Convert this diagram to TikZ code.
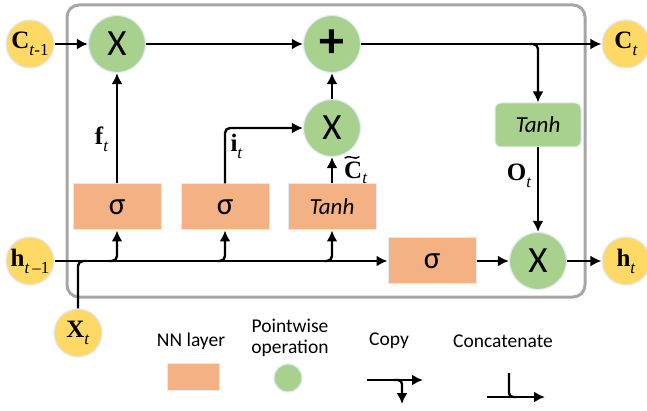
\documentclass[tikz,border=0pt]{standalone}
\usepackage{fontspec}
\setmainfont{Carlito}
\newfontfamily\tnr{Liberation Serif}
\usepackage{tikz}
\usetikzlibrary{arrows.meta, positioning}

\definecolor{cellyellow}{RGB}{255,217,102}
\definecolor{opgreen}{RGB}{169,209,142}
\definecolor{nnorange}{RGB}{244,177,131}
\definecolor{framegray}{RGB}{166,166,166}
\definecolor{glow}{RGB}{222,234,246}

% bold vector with italic subscript
\newcommand{\vlbl}[3][-7pt]{{\tnr\fontsize{25}{28}\selectfont\textbf{#2}\raisebox{#1}{\fontsize{17}{19}\selectfont #3}}}

\tikzset{
  ystate/.style={circle, fill=cellyellow, draw=glow, line width=1.2pt, minimum size=48pt, inner sep=0pt},
  pwop/.style={circle, fill=opgreen, draw=glow, line width=1.2pt, minimum size=57pt, inner sep=0pt,
    font=\fontsize{37}{40}\selectfont},
  nnbox/.style={rectangle, fill=nnorange, draw=glow, line width=1pt, minimum width=88pt, minimum height=46pt,
    inner sep=0pt, font=\fontsize{23}{26}\selectfont},
  tanhbox/.style={rectangle, rounded corners=6pt, fill=opgreen, draw=glow, line width=1pt,
    minimum width=86pt, minimum height=44pt, inner sep=0pt, font=\fontsize{23}{26}\selectfont},
  sig/.style={font=\fontsize{31}{34}\selectfont},
  legtext/.style={font=\fontsize{19.5}{21.5}\selectfont, inner sep=0pt},
  flow/.style={->, line width=2.4pt},
}

\begin{document}
\begin{tikzpicture}[x=1pt, y=-1pt, >={Latex[length=11pt,width=11pt]}, line width=2.4pt]
    \useasboundingbox (0,0) rectangle (647,411);

    % cell frame
    \draw[framegray, line width=3pt, rounded corners=12pt] (67,5) rectangle (585,297);

    % states and operations
    \node[ystate] (cprev) at (30,44) {\vlbl{C}{\textit{t}-1}};
    \node[pwop] (fmul) at (117,44) {X};
    \node[pwop, font=\fontsize{50}{50}\bfseries] (cadd) at (332,44) {\raisebox{-2pt}{+}};
    \node[pwop] (imul) at (332,128) {X};
    \node[ystate] (cnext) at (626,44) {\vlbl{C}{\textit{t}}};
    \node[tanhbox] (ctanh) at (538,125) {\textit{Tanh}};

    \node[nnbox, sig] (fgate) at (117,207) {σ};
    \node[nnbox, sig] (igate) at (225,207) {σ};
    \node[nnbox] (cgate) at (332,207) {\textit{Tanh}};
    \node[nnbox, sig] (ogate) at (432,261) {σ};
    \node[pwop] (hmul) at (538,261) {X};
    \node[ystate] (hnext) at (626,261) {\vlbl{h}{\textit{t}}};
    \node[ystate] (hprev) at (30,261) {\vlbl{h}{\textit{t}\,\textendash1}};
    \node[ystate] (xin) at (78,333) {\vlbl{X}{\textit{t}}};

    % split points
    \coordinate (xjoin) at (xin |- hprev);
    \coordinate (fsplit) at (fgate |- hprev);
    \coordinate (isplit) at (igate |- hprev);
    \coordinate (csplit) at (cgate |- hprev);
    \coordinate (tsplit) at (ctanh |- cadd);

    % cell state line
    \draw[flow] (cprev) -- (fmul);
    \draw[flow] (fmul) -- (cadd);
    \draw[flow] (cadd) -- (cnext);
    \draw[flow, rounded corners=5pt] ([xshift=-8pt]tsplit) -- (tsplit) -- (ctanh);

    % hidden state and input
    \draw[flow] (hprev) -- (ogate);
    \draw[rounded corners=5pt] (xin) -- (xjoin) -- ([xshift=8pt]xjoin);
    \draw[flow, rounded corners=5pt] ([xshift=-8pt]fsplit) -- (fsplit) -- (fgate);
    \draw[flow, rounded corners=5pt] ([xshift=-8pt]isplit) -- (isplit) -- (igate);
    \draw[flow, rounded corners=5pt] ([xshift=-8pt]csplit) -- (csplit) -- (cgate);

    % gates
    \draw[flow] (fgate) -- (fmul) node[pos=0.4, left=4pt] {\vlbl{f}{\textit{t}}};
    \draw[flow, rounded corners=5pt] (igate) |- (imul) node[pos=0.33, right=1pt] {\vlbl{i}{\textit{t}}};
    \draw[flow] (cgate) -- (imul) node[pos=0.4, right=11pt, inner sep=0pt] (clbl) {\vlbl[-5pt]{C}{\textit{t}}};
    \draw[line width=1.5pt, line cap=round] ([xshift=2pt,yshift=3pt]clbl.north west)
        .. controls +(4pt,4pt) and +(-4pt,-4pt) .. ([xshift=16pt,yshift=4pt]clbl.north west);
    \draw[flow] (imul) -- (cadd);
    \draw[flow] (ctanh) -- (hmul) node[pos=0.33, left=2pt] {\vlbl{O}{\textit{t}}};
    \draw[flow] (ogate) -- (hmul);
    \draw[flow] (hmul) -- (hnext);

    % legend
    \node[legtext] (nnlab) at (191,341) {NN layer};
    \node[nnbox, minimum width=52pt, minimum height=27pt] (nnleg) at (193,377) {};
    \node[legtext, align=center] (pwlab) at (290,338) {Pointwise\\operation};
    \node[pwop, minimum size=28pt] (pwleg) at (288,378) {};
    \node[legtext] (cplab) at (389,341) {Copy};
    \node[legtext] (cclab) at (503,341) {Concatenate};

    \coordinate (cpa) at (367,380);
    \coordinate (cpb) at (423,380);
    \coordinate (cpc) at (402,380);
    \coordinate (cpd) at (402,404);
    \draw[flow] (cpa) -- (cpb);
    \draw[flow, rounded corners=4pt] ([xshift=-8pt]cpc) -- (cpc) -- (cpd);

    \coordinate (cca) at (509,373);
    \coordinate (ccb) at (509,397);
    \coordinate (ccc) at (487,397);
    \coordinate (ccd) at (545,397);
    \draw[rounded corners=4pt] (cca) -- (ccb) -- ([xshift=8pt]ccb);
    \draw[flow] (ccc) -- (ccd);
\end{tikzpicture}
\end{document}
